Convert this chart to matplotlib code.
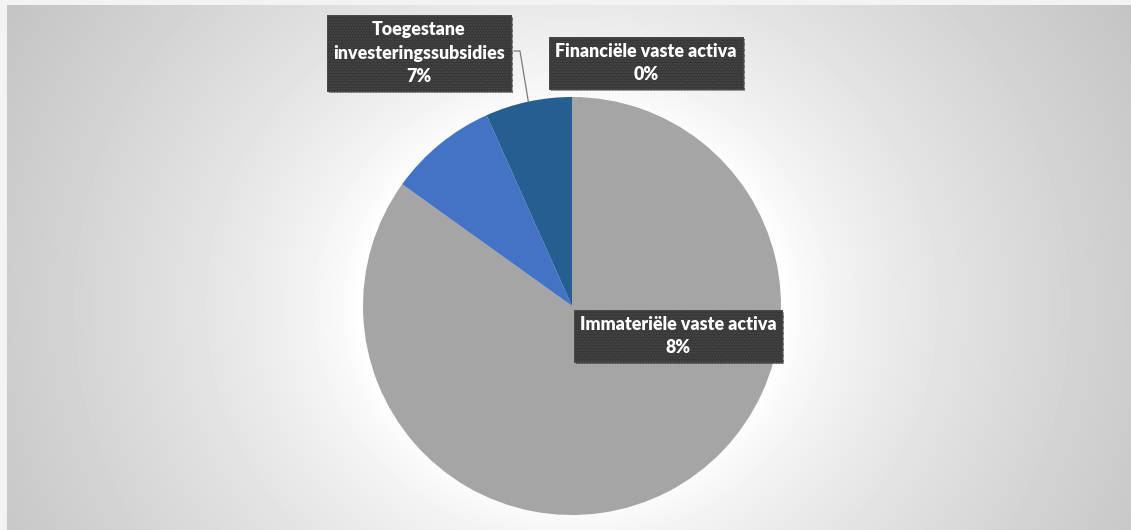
import matplotlib
matplotlib.use("Agg")
import matplotlib.patheffects as path_effects
import matplotlib.pyplot as plt
import numpy as np

# balance sheet split of the fixed assets
categories = ["Materiële vaste activa", "Immateriële vaste activa",
              "Toegestane\ninvesteringssubsidies", "Financiële vaste activa"]
values = [84.9, 8.4, 6.7, 0.0]
colors = ["#a5a5a5", "#4472c4", "#255e91", "#70ad47"]
show_label = [False, True, True, True]

W, H, DPI = 1131, 530, 100
fig = plt.figure(figsize=(W / DPI, H / DPI), dpi=DPI)
fig.set_facecolor("#f3f3f3")

# pie placement in pixels (from top-left)
cx, cy, r = 572, 306, 209


def px_to_fig(x, y):
    return x / W, 1 - y / H


# radial background, white around the pie fading to grey in the corners
bg_left, bg_top = 7, 5
bg = fig.add_axes([bg_left / W, 0, (W - bg_left) / W, (H - bg_top) / H])
xs = bg_left + np.arange(W - bg_left) + 0.5
ys = bg_top + np.arange(H - bg_top) + 0.5
gx, gy = np.meshgrid(xs, ys)
dist = np.hypot(gx - cx, (gy - cy) * 1.1)
t = np.clip((dist - 212) / (640 - 212), 0, 1)
shade = 1 - (58 / 255) * t ** 0.75
bg.imshow(shade, cmap="gray", vmin=0, vmax=1, aspect="auto",
          interpolation="bilinear")
bg.axis("off")

ax = fig.add_axes([(cx - r) / W, (H - cy - r) / H, 2 * r / W, 2 * r / H])
wedges, _ = ax.pie(values, colors=colors, startangle=90, counterclock=False,
                   radius=1, wedgeprops=dict(linewidth=0))
ax.set_xlim(-1, 1)
ax.set_ylim(-1, 1)
ax.axis("off")

total = sum(values)
label_centers = {1: (678, 336), 2: (419, 53), 3: (646, 63)}

box_style = dict(boxstyle="square,pad=0.34", facecolor="#363636",
                 edgecolor="#4a4a4a", linewidth=0.6, hatch="......")

for i, name in enumerate(categories):
    if not show_label[i]:
        continue
    pct = round(values[i] / total * 100)
    lx, ly = label_centers[i]
    fx, fy = px_to_fig(lx, ly)
    txt = fig.text(fx, fy, f"{name}\n{pct}%", ha="center", va="center",
                   color="white", fontsize=12.8, fontweight="heavy",
                   family="Lato", linespacing=1.45, bbox=box_style, zorder=5)
    txt.get_bbox_patch().set_path_effects(
        [path_effects.withSimplePatchShadow(offset=(1.5, -1.5), alpha=0.35),
         path_effects.Normal()])

# leader line from the subsidy label to the middle of its wedge
w = wedges[2]
mid = np.deg2rad((w.theta1 + w.theta2) / 2)
edge_x, edge_y = np.cos(mid), np.sin(mid)
start = ((514 - cx) / r, (cy - 51) / r)
elbow = ((520 - cx) / r, (cy - 51) / r)
ax.plot([start[0], elbow[0], edge_x], [start[1], elbow[1], edge_y],
        color="#7a7a7a", lw=0.9, clip_on=False, zorder=1)

fig.savefig("out.png", dpi=DPI)
